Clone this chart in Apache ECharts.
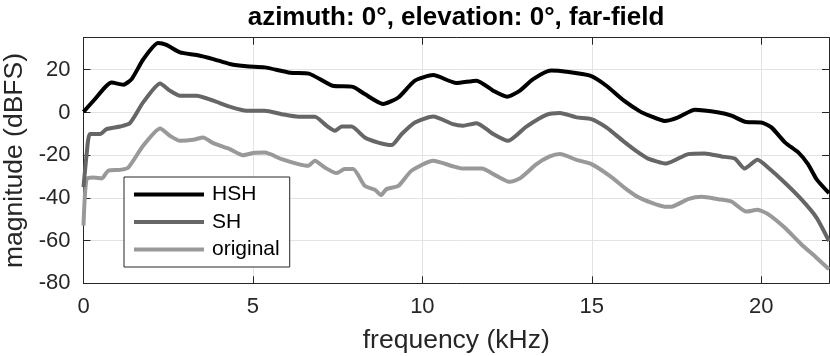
<!DOCTYPE html>
<html>
<head>
<meta charset="utf-8">
<script src="https://cdn.jsdelivr.net/npm/echarts@6/dist/echarts.min.js"></script>
<style>
  html, body { margin: 0; padding: 0; background: #fff; }
  #main { width: 830px; height: 356px; }
</style>
</head>
<body>
<div id="main"></div>
<script>
// [frequency (kHz), magnitude (dBFS)]
const hsh = [
  [0, 0.3], [0.34, 6.3], [0.63, 11.7], [0.83, 14], [1.17, 13], [1.42, 15.6],
  [1.77, 25], [2.2, 32.5], [2.45, 31.6], [2.85, 28.1], [3.34, 26.9], [3.83, 25],
  [4.32, 22.7], [4.81, 21.6], [5.35, 21.1], [6.1, 18.6], [6.65, 18.2], [7.35, 12.5],
  [7.95, 12], [8.3, 8.6], [8.84, 4], [9.29, 7], [9.78, 14.9], [10.32, 17.5],
  [11.0, 13.8], [11.6, 14.9], [12.09, 10.2], [12.5, 7.4], [12.88, 10.2], [13.27, 15.6],
  [13.8, 19.6], [14.25, 19.1], [14.95, 17.2], [15.43, 12.5], [15.95, 5.5], [16.42, 0.5],
  [16.7, -1.5], [17.15, -4], [17.55, -2.3], [18.04, 1.3], [18.75, 0], [19.12, -1.5],
  [19.56, -4.5], [20.0, -4.7], [20.3, -7], [20.7, -14], [21.1, -18.8], [21.38, -24.2],
  [21.63, -31.2], [22, -37.8]
];
const sh = [
  [0, -35], [0.09, -20], [0.19, -10.1], [0.49, -10.1], [0.68, -7.8], [1.08, -6.6],
  [1.37, -5], [1.76, 4.7], [2.26, 13.6], [2.55, 10.2], [2.85, 7.8], [3.34, 7.8],
  [3.83, 5.5], [4.32, 2.7], [4.81, 0.8], [5.35, 0.8], [5.85, -0.8], [6.34, -2],
  [6.83, -2], [7.17, -6.2], [7.42, -8.6], [7.62, -6.6], [7.91, -6.6], [8.3, -11.7],
  [8.7, -14.1], [9.09, -15.3], [9.39, -10.1], [9.78, -4.7], [10.32, -1.9], [10.9, -5.5],
  [11.2, -6.2], [11.6, -5], [12.09, -10.1], [12.53, -13.3], [13.07, -6.6], [13.66, -1.1],
  [14.06, -0.3], [14.55, -2.3], [14.99, -3.1], [15.43, -7], [15.92, -13.3], [16.35, -18.5],
  [16.66, -21.6], [17.2, -23.9], [17.84, -19.5], [18.33, -19.2], [18.83, -20.6], [19.22, -21.6],
  [19.51, -26.3], [19.89, -22.2], [20.2, -25.8], [20.69, -32.8], [21.18, -40.6], [21.63, -49.2],
  [22, -60.2]
];
const original = [
  [0, -53], [0.09, -31.2], [0.29, -30.5], [0.54, -30.9], [0.73, -27.3], [1.08, -26.9],
  [1.32, -25.8], [1.76, -15.6], [2.26, -7.5], [2.55, -10.9], [2.85, -13.3], [3.24, -12.8],
  [3.53, -11.7], [3.83, -14.4], [4.32, -17.2], [4.71, -20], [5.01, -19], [5.35, -18.8],
  [5.85, -21.9], [6.34, -24.2], [6.63, -25], [6.83, -22.6], [7.12, -25.8], [7.47, -28.4],
  [7.71, -26.5], [7.96, -26.5], [8.3, -34.4], [8.6, -36.2], [8.78, -38.7], [8.94, -35.9],
  [9.29, -34.4], [9.68, -27.3], [10.32, -22.6], [10.9, -25.2], [11.2, -26.3], [11.75, -26.3],
  [12.19, -29.7], [12.58, -32.5], [12.88, -30.9], [13.37, -24.2], [13.76, -20.6], [14.06, -19.5],
  [14.55, -22.2], [14.99, -24.2], [15.53, -29.7], [16.02, -35.9], [16.35, -39.5], [16.66, -41.7],
  [17.15, -44.1], [17.35, -44.1], [17.84, -40.6], [18.24, -39.5], [18.73, -40.6], [19.12, -41.7],
  [19.56, -46.4], [19.89, -45.6], [20.2, -47.6], [20.69, -53.9], [21.18, -61.7], [21.63, -68],
  [22, -73.4]
];

const font = 'Liberation Sans, Arial, Helvetica, sans-serif';
const ink = '#262626';
const gridColor = '#e3e3e3';

const chart = echarts.init(document.getElementById('main'), null, { renderer: 'canvas' });

function xAxis(pos, labels) {
  return {
    type: 'value', position: pos, min: 0, max: 22, interval: 5,
    axisLine: { show: true, onZero: false, lineStyle: { color: ink, width: 1 } },
    axisTick: { show: true, inside: true, length: 7, lineStyle: { color: ink } },
    axisLabel: { show: labels, color: ink, fontSize: 22, fontFamily: font, margin: 13, showMaxLabel: false },
    splitLine: { show: labels, lineStyle: { color: gridColor, width: 1 } }
  };
}
function yAxis(pos, labels) {
  return {
    type: 'value', position: pos, min: -80, max: 35, interval: 20,
    axisLine: { show: true, onZero: false, lineStyle: { color: ink, width: 1 } },
    axisTick: { show: true, inside: true, length: 7, lineStyle: { color: ink } },
    axisLabel: { show: labels, color: ink, fontSize: 22, fontFamily: font, margin: 13, showMaxLabel: false },
    splitLine: { show: labels, lineStyle: { color: gridColor, width: 1 } }
  };
}

const xb = xAxis('bottom', true);
xb.name = 'frequency (kHz)';
xb.nameLocation = 'middle';
xb.nameGap = 44;
xb.nameTextStyle = { color: ink, fontSize: 26.5, fontFamily: font };
const yl = yAxis('left', true);
yl.name = 'magnitude (dBFS)';
yl.nameLocation = 'middle';
yl.nameGap = 52;
yl.nameTextStyle = { color: ink, fontSize: 26.5, fontFamily: font };

function line(name, data, color) {
  return {
    name: name, type: 'line', data: data, xAxisIndex: 0, yAxisIndex: 0,
    showSymbol: false, symbol: 'none', smooth: 0.2,
    lineStyle: { color: color, width: 4 }, itemStyle: { color: color },
    animation: false
  };
}

chart.setOption({
  animation: false,
  backgroundColor: '#fff',
  title: {
    text: 'azimuth: 0°, elevation: 0°, far-field',
    left: 456, top: 5, textAlign: 'center', padding: 0,
    textStyle: { color: '#000', fontSize: 26, fontWeight: 'bold', fontFamily: font }
  },
  grid: { left: 83.5, right: 1, top: 37.7, bottom: 72.7, containLabel: false, outerBoundsMode: 'none' },
  xAxis: [xb, xAxis('top', false)],
  yAxis: [yl, yAxis('right', false)],
  legend: {
    data: ['HSH', 'SH', 'original'],
    orient: 'vertical', left: 124, top: 177,
    icon: 'rect', itemWidth: 70, itemHeight: 4, itemGap: 6.5,
    padding: [7, 10, 7, 10],
    backgroundColor: '#fff', borderColor: ink, borderWidth: 1,
    textStyle: { color: '#000', fontSize: 21, lineHeight: 21, fontFamily: font, padding: [0, 0, 0, 3] },
    selectedMode: false
  },
  series: [
    line('original', original, '#999999'),
    line('SH', sh, '#666666'),
    line('HSH', hsh, '#000000')
  ]
});
</script>
</body>
</html>
